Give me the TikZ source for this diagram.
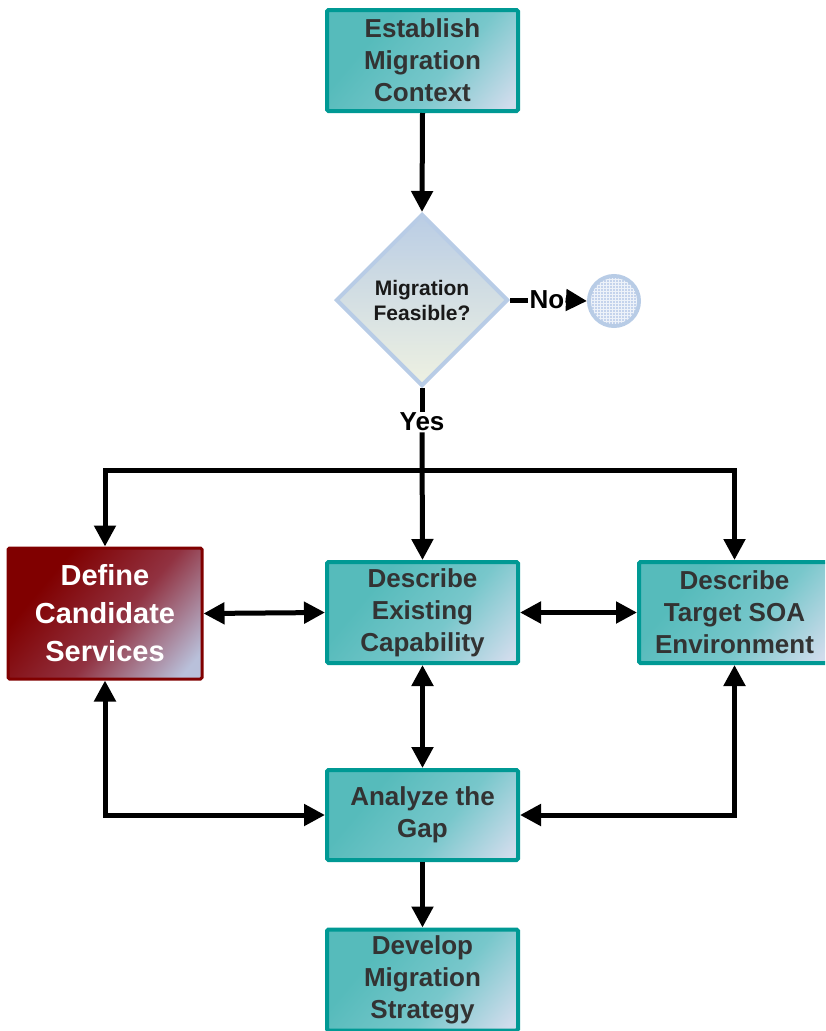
\documentclass[tikz,border=0pt]{standalone}
\usepackage{fontspec}
\setmainfont{Liberation Sans}
\usetikzlibrary{arrows.meta,shapes.geometric,calc}

\definecolor{tealedge}{RGB}{0,153,148}
\definecolor{tealA}{RGB}{86,187,187}
\definecolor{tealM}{RGB}{120,199,203}
\definecolor{tealB}{RGB}{208,220,236}
\definecolor{redA}{RGB}{128,0,0}
\definecolor{redM}{RGB}{145,50,65}
\definecolor{redB}{RGB}{185,192,218}
\definecolor{txt}{RGB}{51,51,51}
\definecolor{diaedge}{RGB}{184,204,230}
\definecolor{diatop}{RGB}{186,205,228}
\definecolor{diabot}{RGB}{238,241,226}
\definecolor{endfill}{RGB}{196,211,236}

\pgfdeclarehorizontalshading{tealfill}{100bp}{color(0bp)=(tealA); color(32bp)=(tealA); color(58bp)=(tealM); color(82bp)=(tealB); color(100bp)=(tealB)}
\pgfdeclarehorizontalshading{redfill}{100bp}{color(0bp)=(redA); color(30bp)=(redA); color(55bp)=(redM); color(80bp)=(redB); color(100bp)=(redB)}

\tikzset{
  box/.style={draw=tealedge, line width=4pt, rectangle, rounded corners=1.5pt,
    minimum width=191pt, minimum height=101pt, inner sep=0pt, align=center,
    font=\bfseries\fontsize{26}{32}\selectfont, text=txt,
    shading=tealfill, shading angle=-40},
  redbox/.style={box, draw=redA, line width=3pt, shading=redfill, text=white,
    font=\bfseries\fontsize{29}{38}\selectfont},
  decision/.style={diamond, draw=diaedge, line width=4pt, minimum width=172pt,
    minimum height=172pt, inner sep=0pt, aspect=1, align=center,
    top color=diatop, bottom color=diabot,
    font=\bfseries\fontsize{21}{25}\selectfont, text=black!90},
  lbl/.style={font=\bfseries\fontsize{26}{30}\selectfont, text=black, inner sep=1pt},
  conn/.style={line width=5pt, draw=black},
  arr/.style={conn, -{Triangle[length=21pt,width=21pt]}},
  dbl/.style={conn, {Triangle[length=21pt,width=21pt]}-{Triangle[length=21pt,width=21pt]}}
}

\begin{document}
\begin{tikzpicture}[x=1pt,y=-1pt]
\useasboundingbox (0,0) rectangle (825,1031);
\clip (0,0) rectangle (825,1031);

% process steps
\node[box] (est) at (422.5,60.5) {Establish\\Migration\\Context};
\node[decision] (dia) at (422,300) {Migration\\Feasible?};
\node[box] (exist) at (422.5,612.5) {Describe\\Existing\\Capability};
\node[redbox, minimum width=194pt, minimum height=131pt] (def) at (105,613.5) {Define\\Candidate\\Services};
\node[box] (target) at (734.5,612.5) {Describe\\Target SOA\\Environment};
\node[box, minimum height=90pt] (ana) at (422.5,815) {Analyze the\\Gap};
\node[box] (dev) at (422.5,980) {Develop\\Migration\\Strategy};

% end point with fine grid
\node[circle, draw=diaedge, line width=4pt, fill=endfill, minimum size=50pt, inner sep=0pt] (stop) at (614,301) {};
\begin{scope}
  \clip (614,301) circle (23pt);
  \draw[white!70!endfill, line width=0.4pt, step=3pt] (585,272) grid (643,330);
\end{scope}

% decision labels
\node[lbl] (no) at (547,300) {No};
\node[lbl] (yes) at (422,422) {Yes};
\coordinate (split) at (422,470);

% connectors
\draw[arr] (est.south) -- (dia.north);
\draw[conn] (dia.east) -- (no.west);
\draw[arr] (no.east) -- (stop.west);
\draw[conn] (dia.south) -- (yes.north);
\draw[arr] (yes.south) -- (exist.north);
\draw[arr] (split) -| (def.north);
\draw[arr] (split) -| (target.north);
\draw[dbl] (def.east) -- (exist.west);
\draw[dbl] (exist.east) -- (target.west);
\draw[dbl] (exist.south) -- (ana.north);
\draw[dbl] (def.south) |- (ana.west);
\draw[dbl] (target.south) |- (ana.east);
\draw[arr] (ana.south) -- (dev.north);
\end{tikzpicture}
\end{document}
